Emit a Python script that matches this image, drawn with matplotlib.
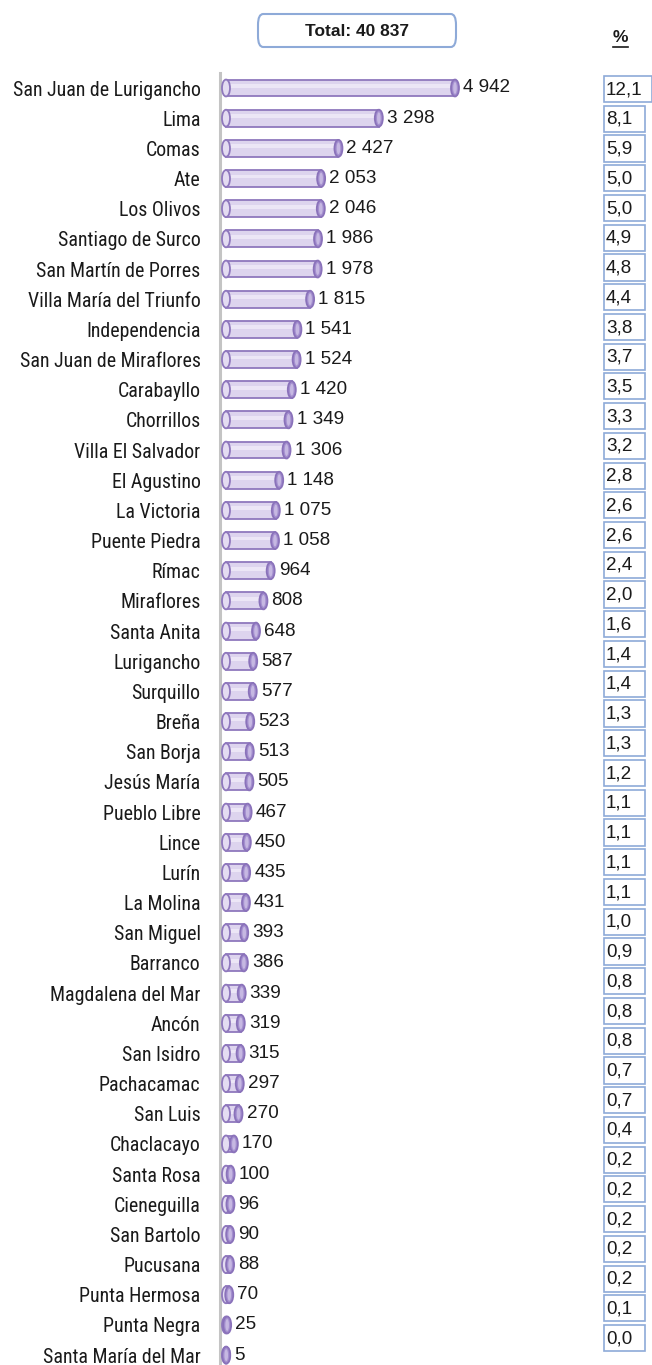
import matplotlib
matplotlib.use("Agg")
import matplotlib.pyplot as plt
from matplotlib.patches import Ellipse, Rectangle, FancyBboxPatch

NARROW = ['Roboto Condensed', 'Archivo Narrow', 'Liberation Sans', 'DejaVu Sans']
ARIAL = ['Liberation Sans', 'DejaVu Sans']
plt.rcParams['font.family'] = NARROW

districts = ["San Juan de Lurigancho", "Lima", "Comas", "Ate", "Los Olivos",
             "Santiago de Surco", "San Martín de Porres", "Villa María del Triunfo",
             "Independencia", "San Juan de Miraflores", "Carabayllo", "Chorrillos",
             "Villa El Salvador", "El Agustino", "La Victoria", "Puente Piedra",
             "Rímac", "Miraflores", "Santa Anita", "Lurigancho", "Surquillo", "Breña",
             "San Borja", "Jesús María", "Pueblo Libre", "Lince", "Lurín", "La Molina",
             "San Miguel", "Barranco", "Magdalena del Mar", "Ancón", "San Isidro",
             "Pachacamac", "San Luis", "Chaclacayo", "Santa Rosa", "Cieneguilla",
             "San Bartolo", "Pucusana", "Punta Hermosa", "Punta Negra", "Santa María del Mar"]
values = [4942, 3298, 2427, 2053, 2046, 1986, 1978, 1815, 1541, 1524, 1420, 1349,
          1306, 1148, 1075, 1058, 964, 808, 648, 587, 577, 523, 513, 505, 467, 450,
          435, 431, 393, 386, 339, 319, 315, 297, 270, 170, 100, 96, 90, 88, 70, 25, 5]
percents = ["12,1", "8,1", "5,9", "5,0", "5,0", "4,9", "4,8", "4,4", "3,8", "3,7",
            "3,5", "3,3", "3,2", "2,8", "2,6", "2,6", "2,4", "2,0", "1,6", "1,4",
            "1,4", "1,3", "1,3", "1,2", "1,1", "1,1", "1,1", "1,1", "1,0", "0,9",
            "0,8", "0,8", "0,8", "0,7", "0,7", "0,4", "0,2", "0,2", "0,2", "0,2",
            "0,2", "0,1", "0,0"]
total_label = "Total: 40 837"

FS_LAB = 14.3
FS_NUM = 13.6
W, H = 652, 1365
fig = plt.figure(figsize=(W / 100, H / 100), dpi=100)

# ---- main bar axes ----
px_per_unit = 229 / 4942.0
ax_left_px, ax_right_px = 220, 600
x0_px = 226
row0_px, row_step = 88, 30.17
top_px = 73
xmin = -(x0_px - ax_left_px) / px_per_unit
xmax = (ax_right_px - x0_px) / px_per_unit
ytop = -(row0_px - top_px) / row_step
ybot = (H - row0_px) / row_step

ax = fig.add_axes([ax_left_px / W, 0, (ax_right_px - ax_left_px) / W, 1 - top_px / H])
ax.set_xlim(xmin, xmax)
ax.set_ylim(ybot, ytop)
for s in ["top", "right", "bottom"]:
    ax.spines[s].set_visible(False)
ax.spines["left"].set_color("#c4c4c4")
ax.spines["left"].set_linewidth(2.2)
ax.set_xticks([])
ax.set_yticks(range(len(districts)))
ax.set_yticklabels(districts, fontsize=FS_LAB, color="#1a1a1a")
ax.tick_params(axis="y", length=0, pad=14)

ys = list(range(len(districts)))
bh = 0.56
cap_w = 8 / px_per_unit
ax.barh(ys, values, height=bh, color="#ddd4ee", edgecolor="#8f78bd", linewidth=1.3, zorder=2)
# soft highlight stripe along each cylinder
ax.barh([y - bh * 0.12 for y in ys], values, height=bh * 0.22, color="#ece6f6",
        edgecolor="none", zorder=2.5)
for y, v in zip(ys, values):
    ax.add_patch(Ellipse((0, y), cap_w, bh, facecolor="#e4dcf2", edgecolor="#8f78bd",
                         linewidth=1.3, zorder=3))
    ax.add_patch(Ellipse((v, y), cap_w, bh, facecolor="#a48fcf", edgecolor="#8a72ba",
                         linewidth=1.3, zorder=3))
    ax.add_patch(Ellipse((v, y), cap_w * 0.45, bh * 0.7, facecolor="#c6b8e2",
                         edgecolor="none", zorder=4))
    ax.annotate(f"{v:,}".replace(",", " "), (v, y), xytext=(8, 0),
                textcoords="offset pixels", va="center", ha="left",
                fontsize=FS_NUM, family=ARIAL, color="#1a1a1a")

# ---- percent column ----
pstep = 29.74
prow0 = 89
ax2 = fig.add_axes([603 / W, 0, (W - 603) / W, 1 - top_px / H])
ax2.set_xlim(0, W - 603)
ax2.set_ylim((H - prow0) / pstep, -(prow0 - top_px) / pstep)
ax2.axis("off")
for i, p in enumerate(percents):
    bw = 48 if i == 0 else 41
    ax2.add_patch(Rectangle((0.5, i - 0.44), bw, 0.88, facecolor="white",
                            edgecolor="#8eaad8", linewidth=1.2, clip_on=False))
    ax2.text(3.0, i + 0.02, p, va="center", ha="left", fontsize=FS_NUM,
             family=ARIAL, color="#1a1a1a")

# ---- header ----
box = FancyBboxPatch((258 / W, 1 - 47 / H), 198 / W, 33 / H,
                     boxstyle="round,pad=0,rounding_size=0.008",
                     transform=fig.transFigure, facecolor="white",
                     edgecolor="#8eaad8", linewidth=1.5)
fig.add_artist(box)
fig.text(357 / W, 1 - 31 / H, total_label, ha="center", va="center",
         fontsize=12.5, fontweight="bold", family=ARIAL, color="#1a1a1a")
fig.text(620 / W, 1 - 38 / H, "%", ha="center", va="center",
         fontsize=12.5, fontweight="bold", family=ARIAL, color="#1a1a1a")
fig.add_artist(plt.Line2D([613 / W, 628 / W], [1 - 47 / H, 1 - 47 / H],
                          transform=fig.transFigure, color="#1a1a1a", linewidth=1.2))

fig.savefig("out.png", dpi=100)
